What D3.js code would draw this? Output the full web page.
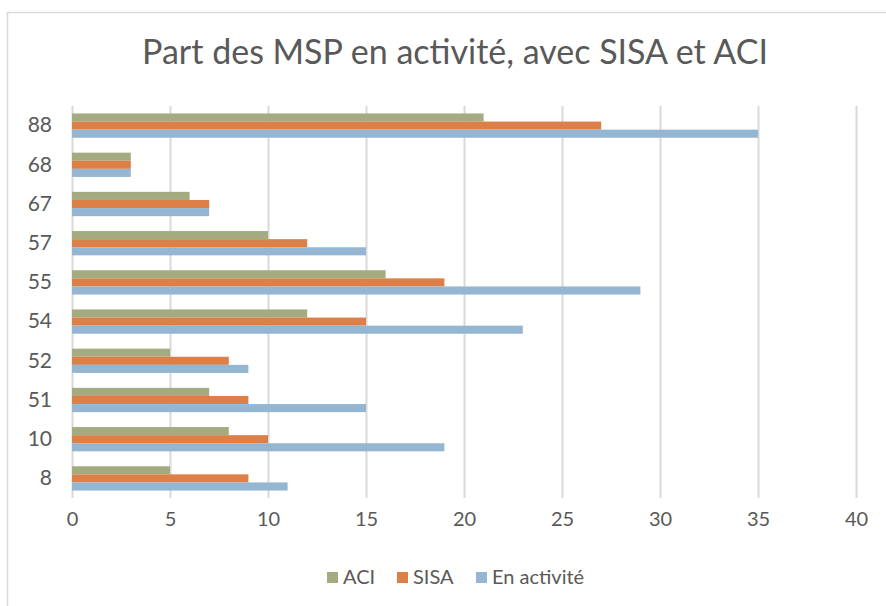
<!DOCTYPE html>
<html><head><meta charset="utf-8">
<script src="https://cdn.jsdelivr.net/npm/d3@7/dist/d3.min.js"></script>
<style>body{margin:0;background:#fff}svg{display:block;font-family:"Century Gothic",Lato,"Noto Sans",sans-serif}</style>
</head><body><svg id="c" width="886" height="606"></svg>
<script>
const categories = ["88","68","67","57","55","54","52","51","10","8"];
const seriesNames = ["ACI","SISA","En activité"];
const aci = [21,3,6,10,16,12,5,7,8,5];
const sisa = [27,3,7,12,19,15,8,9,10,9];
const enActivite = [35,3,7,15,29,23,9,15,19,11];
const xTicks = [0,5,10,15,20,25,30,35,40];
const colors = ["#A5AB81","#DD8047","#94B6D2"];
const title = "Part des MSP en activité, avec SISA et ACI";

const series = [aci, sisa, enActivite];
const svg = d3.select("#c");
svg.append("path").attr("d","M7.5,606V12.5H886").attr("fill","none").attr("stroke","#d9d9d9").attr("stroke-width",1.5);

const x = d3.scaleLinear().domain([0,40]).range([72,856]);
const y = d3.scaleBand().domain(categories).range([106,498]).paddingInner(0.38).paddingOuter(0.19);
const ySub = d3.scaleBand().domain(seriesNames).range([0,y.bandwidth()]);

svg.append("text").attr("x",455).attr("y",64).attr("text-anchor","middle")
  .attr("font-size",34).attr("fill","#595959").text(title);

const grid = svg.append("g").attr("transform","translate(0,498)")
  .call(d3.axisBottom(x).tickValues(xTicks).tickSize(-392).tickPadding(14));
grid.attr("font-family",null).attr("font-size",null);
grid.select(".domain").remove();
grid.selectAll("line").attr("stroke","#d9d9d9").attr("stroke-width",2);
grid.selectAll("text").attr("font-size",20).attr("fill","#595959");

seriesNames.forEach((s,i)=>{
  svg.append("g").selectAll("rect").data(series[i]).join("rect")
    .attr("x",x(0)).attr("y",(d,j)=>y(categories[j])+ySub(s))
    .attr("width",d=>x(d)-x(0)).attr("height",ySub.bandwidth())
    .attr("fill",colors[i]);
});

const ya = svg.append("g").attr("transform","translate(72,0)")
  .call(d3.axisLeft(y).tickSize(0).tickPadding(20));
ya.attr("font-family",null).attr("font-size",null);
ya.select(".domain").remove();
ya.selectAll("text").attr("font-size",21).attr("fill","#595959");

const legX = [327,397,476];
const leg = svg.append("g");
seriesNames.forEach((s,i)=>{
  leg.append("rect").attr("x",legX[i]).attr("y",572).attr("width",11).attr("height",11).attr("fill",colors[i]);
  leg.append("text").attr("x",legX[i]+16).attr("y",584).attr("font-size",20).attr("fill","#595959").text(s);
});
</script></body></html>
